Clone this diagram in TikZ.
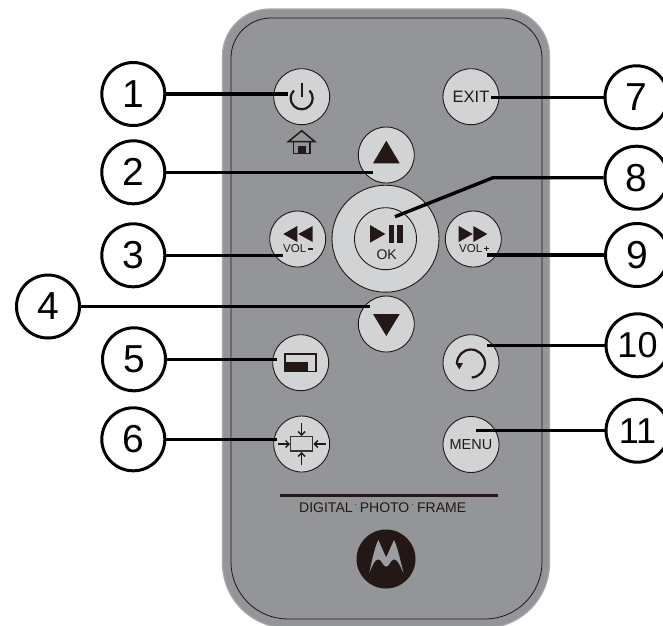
\documentclass[tikz,border=0pt]{standalone}
\usepackage{fontspec}
\setmainfont{Liberation Sans}
\usetikzlibrary{arrows.meta}
\definecolor{bodygrey}{HTML}{939598}
\definecolor{edgegrey}{HTML}{A7A9AC}
\definecolor{btngrey}{HTML}{D1D3D4}
\definecolor{ink}{HTML}{231815}
\newcommand{\fs}[1]{\fontsize{#1}{#1}\selectfont}
\tikzset{
  btn/.style={circle,draw=ink,line width=0.9pt,fill=btngrey,minimum size=56pt,inner sep=0pt,text=ink},
  callout/.style={circle,draw=black,line width=3pt,fill=white,minimum size=63pt,inner sep=0pt,text=black,font=\fs{39}},
  conn/.style={draw=black,line width=3.4pt},
  lineicon/.style={draw=ink,line width=2.2pt},
  pointer/.style={draw=ink,line width=1.4pt,-{Straight Barb[length=3.5pt,width=7pt]}},
}
\begin{document}
\begin{tikzpicture}[x=1pt,y=-1pt]
\useasboundingbox (0,0) rectangle (663,625);
\fill[white] (0,0) rectangle (663,625);
% remote body
\begin{scope}
\clip (0,0) rectangle (663,625);
\filldraw[fill=bodygrey,draw=edgegrey,line width=1.2pt]
  (222.5,56) arc (180:270:47) -- (502.5,9) arc (270:360:47) -- (549.5,563)
  arc (0:90:65) -- (287.5,628) arc (90:180:65) -- cycle;
\draw[draw=ink,line width=0.8pt]
  (231,58) arc (180:270:40) -- (502,18) arc (270:360:40) -- (542,562)
  arc (0:90:57) -- (288,619) arc (90:180:57) -- cycle;
\end{scope}
% buttons
\node[btn,minimum size=107pt] (ring) at (385.5,238.7) {};
\node[btn,minimum size=62pt] (b8) at (385.5,238.7) {};
\node[btn] (b1) at (301.7,96.7) {};
\node[btn,font=\fs{16.5}] (b7) at (471,96.7) {EXIT};
\node[btn] (b2) at (386.3,155) {};
\node[btn] (b3) at (297.7,239) {};
\node[btn] (b9) at (473.3,239) {};
\node[btn] (b4) at (386.3,324) {};
\node[btn] (b5) at (300.7,362.7) {};
\node[btn] (b10) at (471,362.7) {};
\node[btn] (b6) at (301.7,444) {};
\node[btn,font=\fs{14.5}] (b11) at (471,444.5) {MENU};
% power icon
\draw[lineicon] (293.9,90.5) arc (225:-45:11);
\draw[lineicon] (301.7,83.3) -- (301.7,96.7);
% home icon
\draw[draw=ink,line width=1.5pt] (288.3,141.7) -- (301.7,130.7) -- (315,141.7) -- cycle;
\draw[draw=ink,line width=1.5pt] (293.3,141.7) -- (293.3,153.3) -- (310,153.3) -- (310,141.7);
\fill[ink] (298.3,146) rectangle (305.7,153.3);
% triangles
\fill[ink] (386.3,140.7) -- (373,163.3) -- (399.7,163.3) -- cycle;
\fill[ink] (373,314) -- (399.7,314) -- (386.3,336) -- cycle;
% play / pause
\fill[ink] (370,225) -- (370,242.7) -- (385.3,234) -- cycle;
\fill[ink] (388.7,225) rectangle (394,242.7);
\fill[ink] (396.7,225) rectangle (403.3,242.7);
\node[text=ink,font=\fs{14},inner sep=0pt] (oktext) at (386.7,254.3) {OK};
% rewind
\fill[ink] (283.3,234) -- (297.3,226) -- (297.3,242) -- cycle;
\fill[ink] (298.3,234) -- (312.7,226) -- (312.7,242) -- cycle;
\node[text=ink,font=\fs{11.5},inner sep=0pt] (volm) at (294.7,248.3) {VOL};
\fill[ink] (308.3,247.7) rectangle (312.7,249.5);
% forward
\fill[ink] (458.7,226) -- (472.7,234) -- (458.7,242) -- cycle;
\fill[ink] (473.3,226) -- (487.3,234) -- (473.3,242) -- cycle;
\node[text=ink,font=\fs{11.5},inner sep=0pt] (volp) at (470.7,248.3) {VOL};
\fill[ink] (484.2,248) rectangle (489.2,249.4);
\fill[ink] (486,246.2) rectangle (487.4,251.2);
% picture-size icon
\draw[draw=ink,line width=1.2pt] (285,354) rectangle (316,371.7);
\fill[ink] (285,362.3) rectangle (308.3,371.7);
% rotate icon
\draw[lineicon] (471.7,377.5) arc (87:-180:14);
\fill[ink] (459.3,369.5) -- (455.5,363) -- (463,363) -- cycle;
% fit icon
\draw[draw=ink!80!bodygrey,line width=1.4pt] (290.7,436.7) rectangle (312.7,451);
\draw[pointer] (301.7,423.3) -- (301.7,436);
\draw[pointer] (277.7,444) -- (290,444);
\draw[pointer] (325.7,444) -- (313.3,444);
\draw[pointer] (301.7,465) -- (301.7,452);
% footer
\fill[ink] (280,493.8) rectangle (497.7,496.8);
\node[text=ink,font=\fs{14},inner sep=0pt,anchor=base west] (label) at (299,512.7)
  {DIGITAL\hspace{7.2pt}PHOTO\hspace{7.8pt}FRAME};
\fill[ink!70!bodygrey] (354.7,503.8) rectangle (355.7,504.8);
\fill[ink!70!bodygrey] (412.2,503.8) rectangle (413.2,504.8);
% logo
\node[circle,fill=ink,minimum size=59pt,inner sep=0pt] (logo) at (386,559) {};
\begin{scope}[shift={(350pt,-525pt)},x=0.3333pt,y=-0.3333pt]
\fill[bodygrey!85!btngrey] (58,143) .. controls (66,105) and (75,65) .. (85,45)
  .. controls (92,60) and (100,80) .. (108.5,97)
  .. controls (117,80) and (125,60) .. (132,45)
  .. controls (142,65) and (151,105) .. (160,143)
  .. controls (151,125) and (144,103) .. (132,103)
  .. controls (122,103) and (118,125) .. (108.5,125)
  .. controls (99,125) and (95,103) .. (85,103)
  .. controls (73,103) and (66,125) .. (58,143) -- cycle;
\end{scope}
% connector ends
\coordinate (e1) at (288,94);
\coordinate (e2) at (373,172.3);
\coordinate (e3) at (283,255.3);
\coordinate (e4) at (370,306.5);
\coordinate (e5) at (277,359.3);
\coordinate (e6) at (277,439.3);
\coordinate (e7) at (490.7,97.3);
\coordinate (e8a) at (493,177.7);
\coordinate (e8) at (395,216.7);
\coordinate (e9) at (487,255);
\coordinate (e10) at (487,345.3);
\coordinate (e11) at (475.7,430.7);
% callouts
\node[callout] (c1) at (133.3,94) {1};
\node[callout] (c2) at (133.3,172.3) {2};
\node[callout] (c3) at (133.3,255.3) {3};
\node[callout] (c4) at (48,306.5) {4};
\node[callout] (c5) at (134,359.3) {5};
\node[callout] (c6) at (133.3,439.3) {6};
\node[callout] (c7) at (636.5,97.3) {7};
\node[callout] (c8) at (636.5,177.7) {8};
\node[callout] (c9) at (637,255) {9};
\node[callout,font=\fs{36}] (c10) at (637.5,345.3) {10};
\node[callout,font=\fs{36}] (c11) at (637.5,430.7) {11};
% connectors
\draw[conn] (c1) -- (e1);
\draw[conn] (c2) -- (e2);
\draw[conn] (c3) -- (e3);
\draw[conn] (c4) -- (e4);
\draw[conn] (c5) -- (e5);
\draw[conn] (c6) -- (e6);
\draw[conn] (c7) -- (e7);
\draw[conn] (c8) -- (e8a) -- (e8);
\draw[conn] (c9) -- (e9);
\draw[conn] (c10) -- (e10);
\draw[conn] (c11) -- (e11);
\end{tikzpicture}
\end{document}
